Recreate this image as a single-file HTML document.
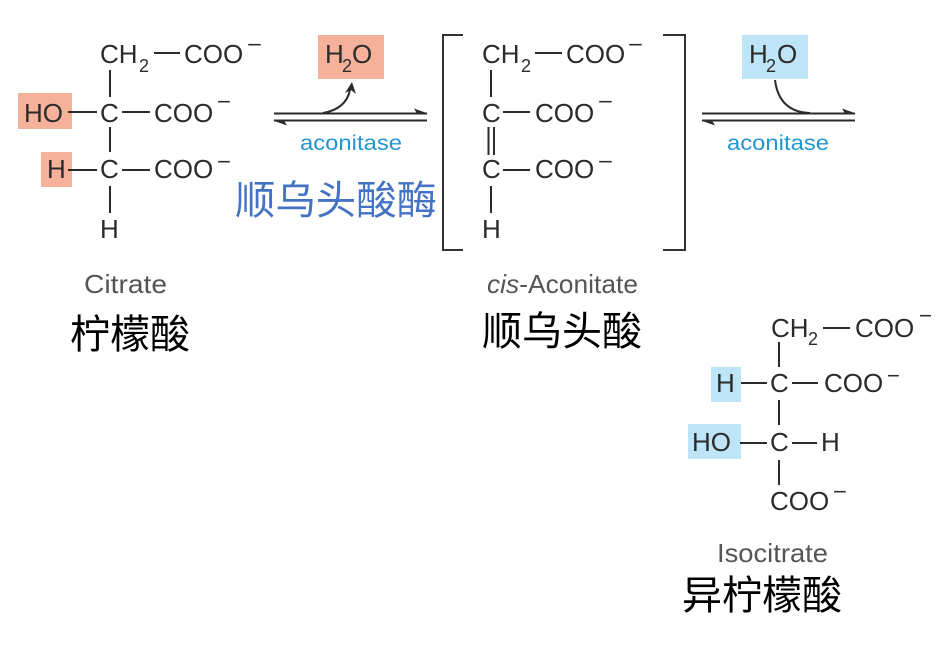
<!DOCTYPE html>
<html><head><meta charset="utf-8"><style>
html,body{margin:0;padding:0;background:#fff;}
svg{display:block;}
.t{font-family:"Liberation Sans",sans-serif;font-size:26px;fill:#2b2b2b;}
.s{font-family:"Liberation Sans",sans-serif;font-size:18px;fill:#2b2b2b;}
.m{font-family:"Liberation Sans",sans-serif;font-size:22px;fill:#2b2b2b;}
.lab{font-family:"Liberation Sans",sans-serif;font-size:26px;fill:#555;}
.en{font-family:"Liberation Sans",sans-serif;font-size:21px;fill:#2196d3;}
.cn{font-family:"Liberation Sans","Noto Sans CJK SC",sans-serif;font-size:40px;fill:#000;}
.cnb{font-family:"Liberation Sans","Noto Sans CJK SC",sans-serif;font-size:40px;fill:#4472c4;}
line,path.b{stroke:#2b2b2b;stroke-width:2;fill:none;}
</style></head><body>
<svg width="952" height="661" viewBox="0 0 952 661" xmlns="http://www.w3.org/2000/svg">
<!-- Citrate -->
<rect x="18" y="93" width="54" height="36" fill="#f6b19b"/>
<rect x="41" y="152" width="31" height="35" fill="#f6b19b"/>
<text class="t" x="100" y="63">CH</text><text class="s" x="139" y="72">2</text>
<line x1="154" y1="53" x2="180" y2="53"/>
<text class="t" x="184" y="63">COO</text><text class="m" x="247" y="52" textLength="15" lengthAdjust="spacingAndGlyphs">−</text>
<line x1="110" y1="70" x2="110" y2="97"/>
<text class="t" x="24" y="122">HO</text>
<line x1="68" y1="112" x2="97" y2="112"/>
<text class="t" x="100" y="122">C</text>
<line x1="122" y1="112" x2="150" y2="112"/>
<text class="t" x="154" y="122">COO</text><text class="m" x="217" y="109" textLength="14" lengthAdjust="spacingAndGlyphs">−</text>
<line x1="110" y1="127" x2="110" y2="152"/>
<text class="t" x="47" y="178">H</text>
<line x1="68" y1="170" x2="97" y2="170"/>
<text class="t" x="100" y="178">C</text>
<line x1="122" y1="170" x2="150" y2="170"/>
<text class="t" x="154" y="178">COO</text><text class="m" x="217" y="169" textLength="14" lengthAdjust="spacingAndGlyphs">−</text>
<line x1="110" y1="186" x2="110" y2="213"/>
<text class="t" x="100" y="238">H</text>
<text class="lab" x="84" y="293" textLength="83" lengthAdjust="spacingAndGlyphs">Citrate</text>
<text class="cn" x="70" y="348">柠檬酸</text>

<!-- Arrow 1 -->
<rect x="318" y="35" width="66" height="44" fill="#f6b19b"/>
<text class="t" x="325" y="63">H</text><text class="s" x="342" y="72" font-size="19">2</text><text class="t" x="352" y="63">O</text>
<line x1="274" y1="113.5" x2="427" y2="113.5"/>
<line x1="274" y1="120.5" x2="427" y2="120.5"/>
<path d="M428 113.5 L414 108.5 L417 113.5 Z" fill="#2b2b2b"/>
<path d="M273 120.5 L287 125.5 L284 120.5 Z" fill="#2b2b2b"/>
<path class="b" d="M323 113 Q346 109 350 90"/>
<path d="M352 82 L345 93 L351 90 L356 94 Z" fill="#2b2b2b"/>
<text class="en" x="300" y="150" textLength="102" lengthAdjust="spacingAndGlyphs">aconitase</text>
<text class="cnb" x="235" y="214" textLength="202" lengthAdjust="spacingAndGlyphs">顺乌头酸酶</text>

<!-- Brackets -->
<path d="M463 35 H443 V250 H463" stroke="#333" stroke-width="2" fill="none"/>
<path d="M663 35 H685 V250 H663" stroke="#333" stroke-width="2" fill="none"/>

<!-- cis-Aconitate -->
<text class="t" x="482" y="63">CH</text><text class="s" x="521" y="72">2</text>
<line x1="535" y1="53" x2="562" y2="53"/>
<text class="t" x="566" y="63">COO</text><text class="m" x="628" y="52" textLength="15" lengthAdjust="spacingAndGlyphs">−</text>
<line x1="491" y1="70" x2="491" y2="97"/>
<text class="t" x="482" y="122">C</text>
<line x1="503" y1="112" x2="530" y2="112"/>
<text class="t" x="535" y="122">COO</text><text class="m" x="598" y="109" textLength="15" lengthAdjust="spacingAndGlyphs">−</text>
<line x1="488.5" y1="127" x2="488.5" y2="155"/>
<line x1="494" y1="127" x2="494" y2="155"/>
<text class="t" x="482" y="178">C</text>
<line x1="503" y1="170" x2="530" y2="170"/>
<text class="t" x="535" y="178">COO</text><text class="m" x="598" y="169" textLength="15" lengthAdjust="spacingAndGlyphs">−</text>
<line x1="491" y1="186" x2="491" y2="213"/>
<text class="t" x="482" y="238">H</text>
<text class="lab" x="487" y="293" textLength="151" lengthAdjust="spacingAndGlyphs"><tspan font-style="italic">cis</tspan>-Aconitate</text>
<text class="cn" x="482" y="345">顺乌头酸</text>

<!-- Arrow 2 -->
<rect x="742" y="35" width="66" height="44" fill="#bee4f7"/>
<text class="t" x="749" y="63">H</text><text class="s" x="766" y="72" font-size="19">2</text><text class="t" x="777" y="63">O</text>
<line x1="702" y1="113.5" x2="855" y2="113.5"/>
<line x1="702" y1="120.5" x2="855" y2="120.5"/>
<path d="M856 113.5 L842 108.5 L845 113.5 Z" fill="#2b2b2b"/>
<path d="M701 120.5 L715 125.5 L712 120.5 Z" fill="#2b2b2b"/>
<path class="b" d="M775 80 Q779 112 810 113"/>
<text class="en" x="727" y="150" textLength="102" lengthAdjust="spacingAndGlyphs">aconitase</text>

<!-- Isocitrate -->
<rect x="711" y="367" width="30" height="35" fill="#bee4f7"/>
<rect x="688" y="424" width="53" height="35" fill="#bee4f7"/>
<text class="t" x="771" y="337">CH</text><text class="s" x="808" y="345">2</text>
<line x1="823" y1="328" x2="850" y2="328"/>
<text class="t" x="855" y="337">COO</text><text class="m" x="919" y="323" textLength="13" lengthAdjust="spacingAndGlyphs">−</text>
<line x1="779" y1="342" x2="779" y2="367"/>
<text class="t" x="716" y="392">H</text>
<line x1="741" y1="383" x2="767" y2="383"/>
<text class="t" x="770" y="392">C</text>
<line x1="792" y1="383" x2="818" y2="383"/>
<text class="t" x="824" y="392">COO</text><text class="m" x="887" y="383" textLength="13" lengthAdjust="spacingAndGlyphs">−</text>
<line x1="779" y1="400" x2="779" y2="425"/>
<text class="t" x="692" y="451">HO</text>
<line x1="740" y1="443" x2="767" y2="443"/>
<text class="t" x="770" y="451">C</text>
<line x1="792" y1="443" x2="817" y2="443"/>
<text class="t" x="821" y="451">H</text>
<line x1="779" y1="460" x2="779" y2="485"/>
<text class="t" x="770" y="510">COO</text><text class="m" x="833" y="499" textLength="14" lengthAdjust="spacingAndGlyphs">−</text>
<text class="lab" x="717" y="562" textLength="111" lengthAdjust="spacingAndGlyphs">Isocitrate</text>
<text class="cn" x="682" y="609">异柠檬酸</text>
</svg>
</body></html>
